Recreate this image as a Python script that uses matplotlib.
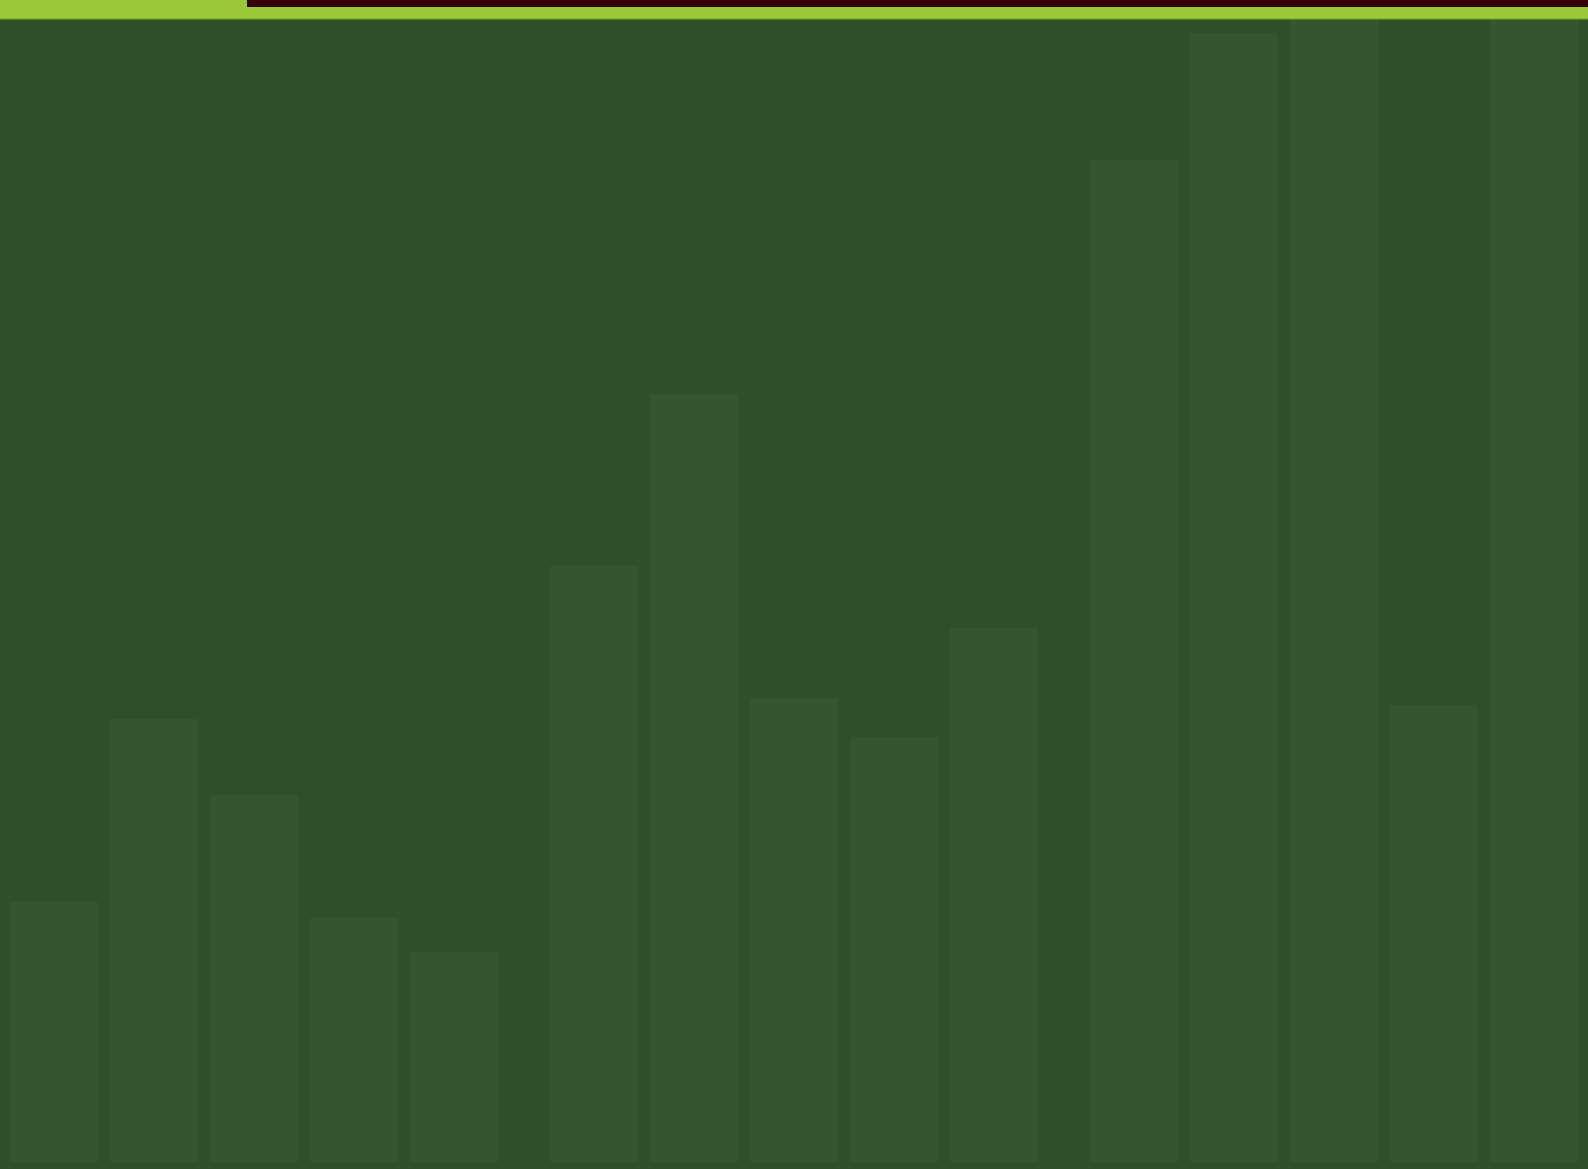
import numpy as np
import matplotlib

matplotlib.use("Agg")
import matplotlib.pyplot as plt

# ---- colours ---------------------------------------------------------------- #
BACKGROUND = "#2e4f2a"
BAR = "#34552d"
STRIP = "#9bc83b"
STRIP_EDGE = "#4f7a22"
PROGRESS = "#360000"

# ---- data ------------------------------------------------------------------- #
groups = ["A", "B", "C"]
series_1 = [26.0, 59.6, 100.2]
series_2 = [44.3, 76.8, 112.9]
series_3 = [36.7, 46.4, 120.0]
series_4 = [24.4, 42.5, 45.7]
series_5 = [21.0, 53.4, 130.0]
progress_start = 0.1555
progress_end = 1.0

# ---- layout ------------------------------------------------------------------ #
W, H = 1588, 1169
SLOT = 100 / 540
WIDTH = 88 / 540
STRIP_H = 19 / H

fig = plt.figure(figsize=(W / 100, H / 100), dpi=100)
fig.patch.set_facecolor(BACKGROUND)

ax = fig.add_axes([0, 0, 1, 1])
ax.set_facecolor(BACKGROUND)
x = np.arange(len(groups))
all_series = [series_1, series_2, series_3, series_4, series_5]
for k, values in enumerate(all_series):
    ax.bar(x + (k - 2) * SLOT, values, width=WIDTH, color=BAR, linewidth=0)
ax.set_xlim(-0.4704, 2.4704)
ax.set_ylim(-0.7, 116.2)
ax.axis("off")

# ---- top strip with the progress bar ---------------------------------------- #
top = fig.add_axes([0, 1 - STRIP_H, 1, STRIP_H])
top.set_facecolor(STRIP)
top.barh([0.81], [progress_end - progress_start], left=progress_start,
         height=0.38, color=PROGRESS, linewidth=0)
top.set_xlim(0, 1)
top.set_ylim(0, 1)
top.set_xticks([])
top.set_yticks([])
for side in ("top", "left", "right"):
    top.spines[side].set_visible(False)
top.spines["bottom"].set_color(STRIP_EDGE)
top.spines["bottom"].set_linewidth(1)

fig.savefig("out.png", dpi=100, facecolor=BACKGROUND)
